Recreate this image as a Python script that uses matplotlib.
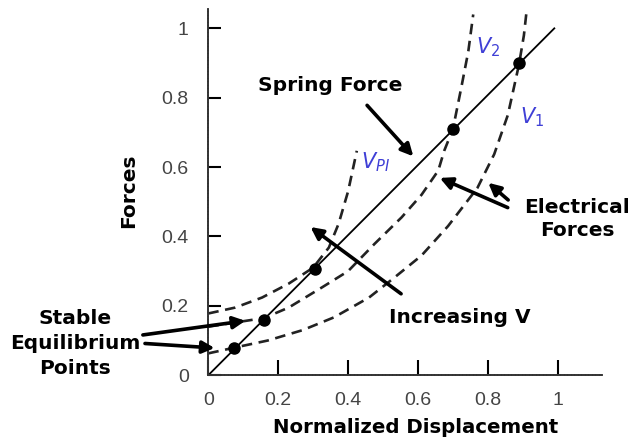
import matplotlib.pyplot as plt

# spring force line and equilibrium points
spring_x = [0.0, 0.99]
spring_y = [0.0, 1.0]
eq_x = [0.074, 0.16, 0.305, 0.70, 0.89]
eq_y = [0.078, 0.16, 0.307, 0.71, 0.90]

# electrical force curves
vpi_x = [0.0, 0.077, 0.154, 0.23, 0.30, 0.345, 0.373, 0.40, 0.425]
vpi_y = [0.178, 0.195, 0.224, 0.264, 0.31, 0.368, 0.437, 0.53, 0.647]
v2_x = [0.0, 0.077, 0.16, 0.23, 0.325, 0.40, 0.476, 0.553, 0.61, 0.658, 0.675, 0.70, 0.724, 0.744, 0.758]
v2_y = [0.14, 0.152, 0.165, 0.195, 0.253, 0.30, 0.379, 0.455, 0.52, 0.59, 0.647, 0.71, 0.83, 0.934, 1.04]
v1_x = [0.0, 0.077, 0.17, 0.27, 0.36, 0.46, 0.533, 0.61, 0.686, 0.77, 0.818, 0.857, 0.889, 0.903, 0.914]
v1_y = [0.063, 0.08, 0.10, 0.13, 0.167, 0.224, 0.282, 0.345, 0.43, 0.54, 0.637, 0.75, 0.896, 0.98, 1.08]

xticks = [0, 0.2, 0.4, 0.6, 0.8, 1]
xticklabels = ['0', '0.2', '0.4', '0.6', '0.8', '1']
yticks = [0, 0.2, 0.4, 0.6, 0.8, 1]
yticklabels = ['0', '0.2', '0.4', '0.6', '0.8', '1']

fig = plt.figure(figsize=(6.35, 4.43), dpi=100)
ax = fig.add_axes([0.328, 0.153, 0.622, 0.83])
ax.set_xlim(0, 1.13)
ax.set_ylim(0, 1.06)

dash = (0, (4, 2.5))
ax.plot(spring_x, spring_y, color='black', lw=1.3)
for cx, cy in [(vpi_x, vpi_y), (v2_x, v2_y), (v1_x, v1_y)]:
    ax.plot(cx, cy, color='#222222', lw=1.9, linestyle=dash)
ax.plot(eq_x, eq_y, 'o', color='black', markersize=8)

# spines / ticks
for s in ['top', 'right']:
    ax.spines[s].set_visible(False)
for s in ['left', 'bottom']:
    ax.spines[s].set_linestyle((0, (1, 0.8)))
    ax.spines[s].set_linewidth(1.4)
    ax.spines[s].set_color('#333333')
ax.set_xticks(xticks)
ax.set_xticklabels(xticklabels)
ax.set_yticks(yticks)
ax.set_yticklabels(yticklabels)
ax.tick_params(axis='x', direction='in', length=11, width=1.5, pad=12,
               labelsize=14, labelcolor='#444444')
ax.tick_params(axis='y', direction='in', length=9, width=1.5, pad=14,
               labelsize=14, labelcolor='#444444')
for lab in ax.get_xticklabels() + ax.get_yticklabels():
    lab.set_family('Liberation Sans')

ax.set_xlabel('Normalized Displacement', fontsize=14.2, fontweight='bold')
ax.xaxis.set_label_coords(0.524, -0.115)
ax.set_ylabel('Forces', fontsize=14.5, fontweight='bold')
ax.yaxis.set_label_coords(-0.178, 0.503)

# annotations
fs = 14.5
arrow = dict(arrowstyle='-|>', color='black', lw=2.6, mutation_scale=18)
ax.annotate('', xy=(0.592, 0.625), xytext=(0.449, 0.784), arrowprops=arrow)
ax.text(0.349, 0.836, 'Spring Force', fontsize=fs, fontweight='bold', ha='center', va='center')

blue = '#3f3fd6'
ax.text(0.80, 0.945, '$V_2$', color=blue, fontsize=15, ha='center', va='center')
ax.text(0.927, 0.744, '$V_1$', color=blue, fontsize=15, ha='center', va='center')
ax.text(0.478, 0.614, '$V_{PI}$', color=blue, fontsize=15, ha='center', va='center')

ax.annotate('', xy=(0.655, 0.572), xytext=(0.864, 0.48), arrowprops=arrow)
ax.annotate('', xy=(0.795, 0.56), xytext=(0.864, 0.50), arrowprops=arrow)
ax.text(1.055, 0.45, 'Electrical\nForces', fontsize=fs, fontweight='bold',
        ha='center', va='center', linespacing=1.3, clip_on=False)

ax.annotate('', xy=(0.286, 0.432), xytext=(0.558, 0.23), arrowprops=arrow)
ax.text(0.72, 0.167, 'Increasing V', fontsize=fs, fontweight='bold', ha='center', va='center')

ax.annotate('', xy=(0.114, 0.158), xytext=(-0.195, 0.115), arrowprops=arrow, annotation_clip=False)
ax.annotate('', xy=(0.026, 0.078), xytext=(-0.189, 0.092), arrowprops=arrow, annotation_clip=False)
ax.text(-0.38, 0.092, 'Stable\nEquilibrium\nPoints', fontsize=fs, fontweight='bold',
        ha='center', va='center', linespacing=1.4, clip_on=False)

fig.savefig('out.png', dpi=100)
